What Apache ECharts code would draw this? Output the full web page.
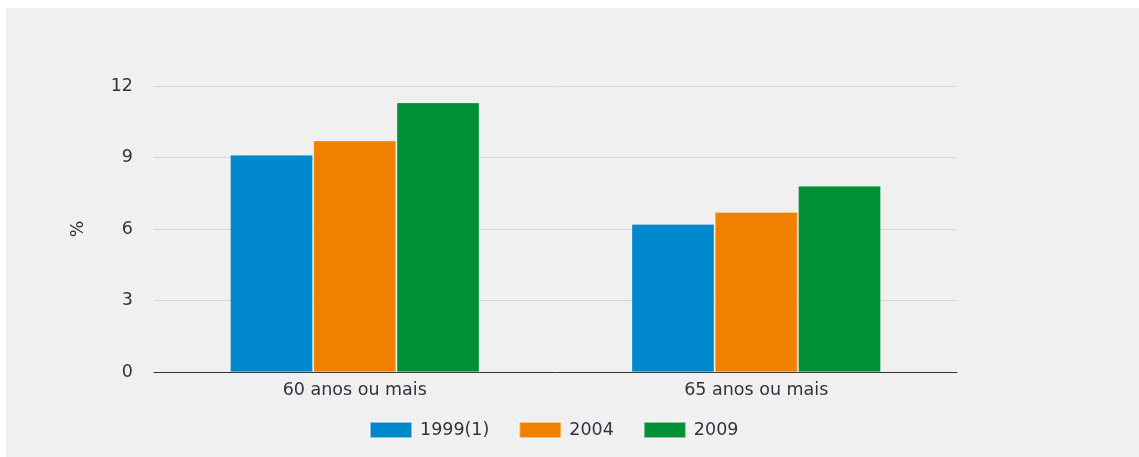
<!DOCTYPE html>
<html><head><meta charset="utf-8">
<script src="https://cdn.jsdelivr.net/npm/echarts@6/dist/echarts.min.js"></script>
<style>
html,body{margin:0;padding:0;background:#fff;width:1139px;height:457px;overflow:hidden}
#c{position:absolute;left:6px;top:8px;width:1133px;height:449px;background:#f0f0f0}
</style></head><body>
<div id="c"></div>
<script>
const categories = ['60 anos ou mais', '65 anos ou mais'];
const seriesNames = ['1999(1)', '2004', '2009'];
const v1999 = [9.1, 6.2];
const v2004 = [9.7, 6.7];
const v2009 = [11.3, 7.8];
const yTicks = [0, 3, 6, 9, 12];
const colors = ['#0088cc', '#f08000', '#009035'];
const values = [v1999, v2004, v2009];
const font = 'DejaVu Sans, sans-serif';
const fs = 17.5;
const chart = echarts.init(document.getElementById('c'));
chart.setOption({
  animation: false,
  backgroundColor: '#f0f0f0',
  grid: {left: 148, right: 182, top: 78, bottom: 85, containLabel: false},
  legend: {
    left: 358, top: 408, itemWidth: 42, itemHeight: 16, itemGap: 29,
    icon: 'rect',
    textStyle: {fontFamily: font, fontSize: fs, color: '#33333f', padding: [0,0,0,3]},
    data: seriesNames
  },
  xAxis: {
    type: 'category', data: categories,
    axisLine: {lineStyle: {color: '#333', width: 1}},
    axisTick: {show: false},
    axisLabel: {fontFamily: font, fontSize: fs, color: '#33333f', margin: 9}
  },
  yAxis: {
    type: 'value', min: yTicks[0], max: yTicks[yTicks.length-1], interval: 3,
    name: '%', nameLocation: 'middle', nameGap: 67, nameRotate: 90,
    nameTextStyle: {fontFamily: font, fontSize: fs, color: '#33333f'},
    axisLine: {show: false}, axisTick: {show: false},
    axisLabel: {fontFamily: font, fontSize: fs, color: '#33333f', margin: 21},
    splitLine: {lineStyle: {color: '#d6d6d6', width: 1}}
  },
  series: seriesNames.map((n, i) => ({
    name: n, type: 'bar', data: values[i],
    barGap: '1%', barCategoryGap: '38%',
    itemStyle: {color: colors[i], borderColor: 'rgba(255,255,255,0.5)', borderWidth: 0.5}
  }))
});
</script></body></html>
